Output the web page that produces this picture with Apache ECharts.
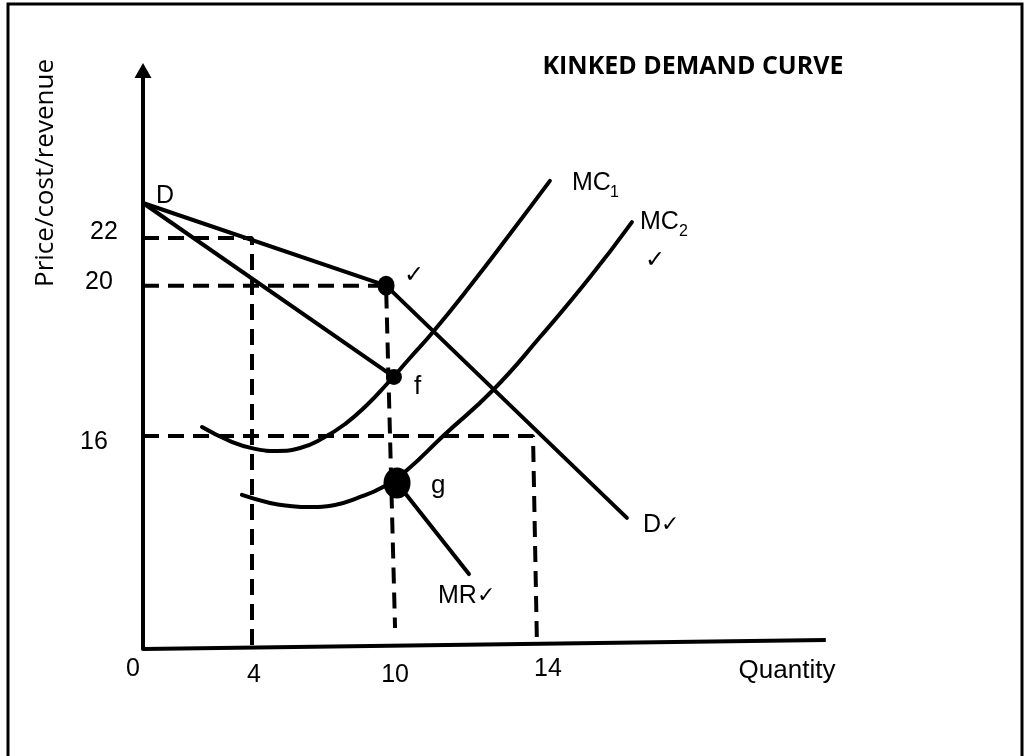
<!DOCTYPE html>
<html><head><meta charset="utf-8">
<script src="https://cdn.jsdelivr.net/npm/echarts@6/dist/echarts.min.js"></script>
<style>html,body{margin:0;padding:0;background:#fff}#c{width:1029px;height:756px}</style>
</head><body><div id="c"></div>
<script>
// ---- Data (diagram units: quantity on x, price on y) ----
const demandUpper = [[0, 23.85], [8.65, 19.43]];
const demandLower = [[8.65, 19.43], [17.22, 7.01]];
const mrUpper = [[0, 23.85], [8.93, 14.55]];
const mrLower = [[9.04, 8.88], [11.6, 4.01]];
const mc1 = [[2.10, 11.87], [3.10, 11.12], [3.99, 10.70], [4.77, 10.59], [5.59, 10.75], [6.41, 11.28],
  [7.19, 12.03], [7.97, 13.05], [8.68, 14.17], [9.50, 15.56], [10.32, 16.95], [11.64, 19.41],
  [13.06, 22.19], [14.48, 25.03]];
const mc2 = [[3.52, 8.24], [4.52, 7.81], [5.23, 7.65], [5.94, 7.59], [6.83, 7.70], [7.62, 8.07],
  [8.54, 8.66], [9.40, 9.57], [10.68, 11.39], [12.46, 13.85], [14.13, 16.68], [15.91, 19.89],
  [17.40, 22.83]];
const quantityAxis = [[0, 0], [24.3, 0.48]];
const guide22 = [[0, 21.98], [3.88, 21.98], [3.88, 0]];
const guide20 = [[0, 19.43], [8.65, 19.43], [8.97, 1.12]];
const guide16 = [[0, 11.39], [13.88, 11.39], [14.02, 0.2]];
const kinkPoint = [8.65, 19.43];
const fPoint = [8.93, 14.55];
const gPoint = [9.04, 8.88];
const xTickPos = [-0.36, 3.95, 8.97, 14.41];
const xTickLabels = ['0', '4', '10', '14'];
const yTickPos = [21.98, 19.43, 11.39];
const yLabelPos = [22.30, 19.63, 11.07];
const yTickLabels = ['22', '20', '16'];

function nearestIndex(v, pos) {
  let best = 0;
  for (let i = 1; i < pos.length; i++) if (Math.abs(pos[i] - v) < Math.abs(pos[best] - v)) best = i;
  return best;
}

const solid = { color: '#000', width: 4, cap: 'round', opacity: 1 };
const dashed = { color: '#000', width: 4, type: [16, 9], opacity: 1 };
function lineSeries(name, data, style, smooth) {
  return { name, type: 'line', data, showSymbol: false, symbol: 'none', smooth: smooth || false,
    lineStyle: style, silent: true, animation: false, z: 3 };
}
function dot(name, pt, size) {
  return { name, type: 'scatter', data: [pt], symbol: 'circle', symbolSize: size,
    itemStyle: { color: '#000', opacity: 1 }, silent: true, animation: false, z: 5 };
}

const LAB = '"Liberation Sans", Arial, sans-serif';
const CHK = '"DejaVu Sans", sans-serif';
function txt(text, x, y, size, opts) {
  return Object.assign({ type: 'text', x, y, silent: true, style: Object.assign({
    text, font: size + 'px ' + LAB, fill: '#000', align: 'left', verticalAlign: 'middle' }, opts || {}) });
}
// hand-drawn label offsets (style only)
const yLabelStyles = ['p0', 'p1', 'p2'];
const xLabelStyles = ['q0', 'q1', 'q1', 'q0'];

const chart = echarts.init(document.getElementById('c'), null, { renderer: 'canvas' });
chart.setOption({
  animation: false,
  backgroundColor: '#fff',
  grid: { left: 114.9, right: 43, top: 70.4, bottom: 107, outerBoundsMode: 'none' },
  xAxis: {
    type: 'value', min: -1, max: 30,
    axisLine: { show: false }, axisTick: { show: false }, splitLine: { show: false },
    axisLabel: {
      customValues: xTickPos, margin: 8, color: '#000', fontSize: 25, fontFamily: LAB,
      formatter: v => { const i = nearestIndex(v, xTickPos); return '{' + xLabelStyles[i] + '|' + xTickLabels[i] + '}'; },
      rich: { q0: { fontSize: 25, fontFamily: LAB, color: '#000', padding: [0, 0, 0, 0] },
              q1: { fontSize: 25, fontFamily: LAB, color: '#000', padding: [6, 0, 0, 0] } }
    }
  },
  yAxis: {
    type: 'value', min: 0, max: 30.94,
    axisLine: { show: true, onZero: true, lineStyle: { color: '#000', width: 4 },
      symbol: ['none', 'triangle'], symbolSize: [17, 15] },
    axisTick: { show: true, inside: true, length: 8, customValues: yTickPos,
      lineStyle: { color: '#000', width: 3 } },
    splitLine: { show: false },
    axisLabel: {
      customValues: yLabelPos, margin: -3, color: '#000', fontSize: 25, fontFamily: LAB,
      formatter: v => { const i = nearestIndex(v, yLabelPos); return '{' + yLabelStyles[i] + '|' + yTickLabels[i] + '}'; },
      rich: { p0: { fontSize: 25, fontFamily: LAB, color: '#000', padding: [0, 0, 0, 0] },
              p1: { fontSize: 25, fontFamily: LAB, color: '#000', padding: [0, 5, 0, 0] },
              p2: { fontSize: 25, fontFamily: LAB, color: '#000', padding: [0, 10, 0, 0] } }
    }
  },
  series: [
    lineSeries('Quantity axis', quantityAxis, { color: '#000', width: 4 }),
    lineSeries('guide 22', guide22, dashed),
    lineSeries('guide 20', guide20, dashed),
    lineSeries('guide 16', guide16, dashed),
    lineSeries('D upper', demandUpper, solid),
    lineSeries('D lower', demandLower, solid),
    lineSeries('MR upper', mrUpper, solid),
    lineSeries('MR lower', mrLower, solid),
    lineSeries('MC1', mc1, solid, 0.5),
    lineSeries('MC2', mc2, solid, 0.5),
    dot('kink', kinkPoint, [17, 20]),
    dot('f', fPoint, [16, 16]),
    dot('g', gPoint, [27, 31])
  ],
  graphic: [
    { type: 'rect', silent: true, shape: { x: 8, y: 4, width: 1014, height: 800 },
      style: { fill: 'none', stroke: '#000', lineWidth: 3 } },
    txt('KINKED DEMAND CURVE', 693, 67, 25, { font: 'bold 25px "Open Sans", sans-serif', align: 'center' }),
    Object.assign(txt('Price/cost/revenue', 46, 173, 26, { font: '26px "Open Sans", sans-serif', align: 'center' }), { rotation: Math.PI / 2 }),
    txt('Quantity', 787, 671, 26, { align: 'center' }),
    txt('D', 156, 196, 25),
    txt('\u2713', 404, 276, 24, { font: '24px ' + CHK }),
    txt('f', 414, 387, 26),
    txt('g', 431, 486, 26),
    txt('MC', 572, 183, 25),
    txt('1', 610, 193, 16),
    txt('MC', 640, 222, 25),
    txt('2', 679, 232, 16),
    txt('\u2713', 645, 261, 24, { font: '24px ' + CHK }),
    txt('{a|D}{c|\u2713}', 643, 525, 25, { rich: { a: { font: '25px ' + LAB, fill: '#000' }, c: { font: '22px ' + CHK, fill: '#000' } } }),
    txt('{a|MR}{c|\u2713}', 438, 596, 25, { rich: { a: { font: '25px ' + LAB, fill: '#000' }, c: { font: '22px ' + CHK, fill: '#000' } } })
  ]
});
</script>
</body></html>
